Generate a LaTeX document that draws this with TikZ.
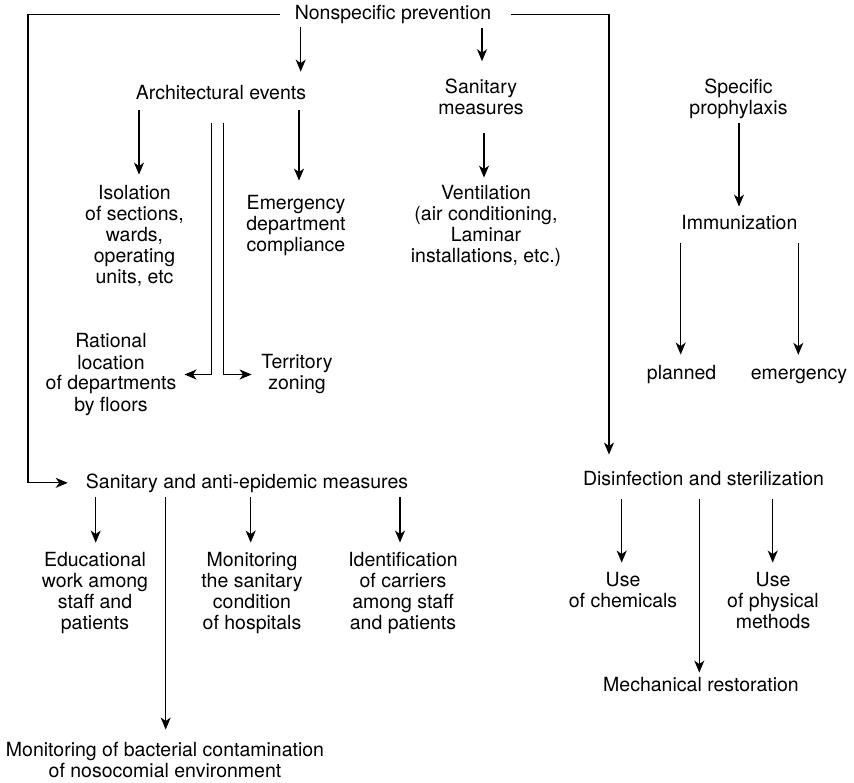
\documentclass[tikz,border=0pt]{standalone}
\usepackage{fontspec}
\setmainfont{TeX Gyre Heros}
\usetikzlibrary{arrows.meta}

\begin{document}
\begin{tikzpicture}[x=1pt, y=-1pt,
        txt/.style={anchor=base, align=center, inner sep=0pt, font=\fontsize{19.5}{21}\selectfont},
        arr/.style={line width=1.2pt, -{Stealth[length=12pt, width=10pt, inset=3.5pt]}}]
        \useasboundingbox (0,0) rectangle (854,783);
        % columns of the connectors
        \coordinate (lft) at (28,0);
        \coordinate (rgt) at (609,0);
        \coordinate (cA) at (300.7,0);
        \coordinate (cS) at (482,0);
        \coordinate (cI) at (139,0);
        \coordinate (cE) at (299,0);
        \coordinate (dl) at (211.7,0);
        \coordinate (dr) at (223.3,0);
        \coordinate (cV) at (484,0);
        \coordinate (cP) at (739,0);
        \coordinate (cPl) at (680.7,0);
        \coordinate (cEm) at (798.3,0);
        \coordinate (cEd) at (95.7,0);
        \coordinate (cMb) at (165.7,0);
        \coordinate (cMo) at (250.7,0);
        \coordinate (cId) at (400,0);
        \coordinate (cCh) at (621.7,0);
        \coordinate (cMr) at (699.3,0);
        \coordinate (cPh) at (772.7,0);

        % nodes sit on the baseline of their last line
        \node[txt] at (393,19.5) (ns) {Nonspecific prevention};
        \node[txt] at (221,100) (ae) {Architectural events};
        \node[txt] at (481,115) (sm) {Sanitary\\measures};
        \node[txt] at (738.5,115) (sp) {Specific\\prophylaxis};
        \node[txt] at (134.5,284) (iso) {Isolation\\of sections,\\wards,\\operating\\units, etc};
        \node[txt] at (296,252) (edc) {Emergency\\department\\compliance};
        \node[txt] at (486,263) (ven) {Ventilation\\(air conditioning,\\Laminar\\installations, etc.)};
        \node[txt] at (739.4,230) (imm) {Immunization};
        \node[txt] at (111,411) (rat) {Rational\\location\\of departments\\by floors};
        \node[txt] at (297,390) (ter) {Territory\\zoning};
        \node[txt] at (681.6,380) (pl) {planned};
        \node[txt, text height=14pt] at (799,380) (em) {emergency};
        \node[txt] at (247,488) (sae) {Sanitary and anti-epidemic measures};
        \node[txt] at (703.5,485) (ds) {Disinfection and sterilization};
        \node[txt] at (95,629) (edu) {Educational\\work among\\staff and\\patients};
        \node[txt] at (252,629) (mon) {Monitoring\\the sanitary\\condition\\of hospitals};
        \node[txt] at (403,629) (idc) {Identification\\of carriers\\among staff\\and patients};
        \node[txt] at (623,607.7) (uch) {Use\\of chemicals};
        \node[txt] at (773,628.7) (uph) {Use\\of physical\\methods};
        \node[txt] at (701,691.7) (mr) {Mechanical restoration};
        \node[txt] at (165,777.7) (mbc) {Monitoring of bacterial contamination\\of nosocomial environment};

        % nonspecific prevention
        \draw[arr, shorten <=3.5pt, shorten >=14pt] (ns.south -| cA) -- (ae.north -| cA);
        \draw[arr, shorten <=4.5pt, shorten >=18pt] (ns.south -| cS) -- (sm.north -| cS);
        \draw[arr, shorten <=14.5pt, shorten >=18pt] (ns.west) -- (ns.west -| lft) -- (lft |- sae.west) -- (sae.west);
        \draw[arr, shorten <=20pt, shorten >=16pt] (ns.east) -- (ns.east -| rgt) -- (rgt |- ds.north);
        % architectural events
        \draw[arr, shorten <=10pt, shorten >=11pt] (ae.south -| cI) -- (iso.north -| cI);
        \draw[arr, shorten <=10pt, shorten >=15pt] (ae.south -| cE) -- (edc.north -| cE);
        \draw[arr, shorten <=22.7pt, shorten >=8pt] (ae.south -| dl) -- (dl |- rat.east) -- (rat.east);
        \draw[arr, shorten <=22.7pt, shorten >=9.7pt] (ae.south -| dr) -- (dr |- ter.west) -- (ter.west);
        % sanitary measures
        \draw[arr, shorten <=17.7pt, shorten >=8pt] (sm.south -| cV) -- (ven.north -| cV);
        % specific prophylaxis
        \draw[arr, shorten <=3.9pt, shorten >=9pt] (sp.south -| cP) -- (imm.north -| cP);
        \draw[arr, shorten <=12.7pt, shorten >=11pt] (imm.south -| cPl) -- (pl.north -| cPl);
        \draw[arr, shorten <=12.7pt, shorten >=11pt] (imm.south -| cEm) -- (em.north -| cEm);
        % sanitary and anti-epidemic measures
        \draw[arr, shorten <=5pt, shorten >=9pt] (sae.south -| cEd) -- (edu.north -| cEd);
        \draw[arr, shorten <=5pt, shorten >=12.7pt] (sae.south -| cMb) -- (mbc.north -| cMb);
        \draw[arr, shorten <=5pt, shorten >=9pt] (sae.south -| cMo) -- (mon.north -| cMo);
        \draw[arr, shorten <=5pt, shorten >=9pt] (sae.south -| cId) -- (idc.north -| cId);
        % disinfection and sterilization
        \draw[arr, shorten <=13.7pt, shorten >=9.7pt] (ds.south -| cCh) -- (uch.north -| cCh);
        \draw[arr, shorten <=13.7pt, shorten >=4.7pt] (ds.south -| cMr) -- (mr.north -| cMr);
        \draw[arr, shorten <=13.7pt, shorten >=9.7pt] (ds.south -| cPh) -- (uph.north -| cPh);
\end{tikzpicture}
\end{document}
